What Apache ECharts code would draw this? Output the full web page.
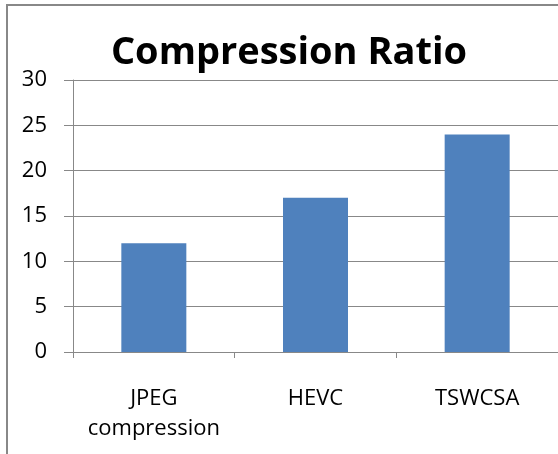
<!DOCTYPE html>
<html>
<head>
<meta charset="utf-8">
<script src="https://cdn.jsdelivr.net/npm/echarts@6/dist/echarts.min.js"></script>
<style>
  html, body { margin: 0; padding: 0; background: #ffffff; }
  #chart { width: 558px; height: 454px; }
</style>
</head>
<body>
<div id="chart"></div>
<script>
// Chart data
const categories = ['JPEG\ncompression', 'HEVC', 'TSWCSA'];
const ratioValues = [12, 17, 24];
const yTicks = [0, 5, 10, 15, 20, 25, 30];

const FONT = '"Open Sans", "Noto Sans", sans-serif';
const GRID_COLOR = '#888888';

const chart = echarts.init(document.getElementById('chart'), null, { renderer: 'canvas' });

chart.setOption({
  backgroundColor: '#ffffff',
  animation: false,
  title: {
    text: 'Compression Ratio',
    left: 284,
    top: 29,
    textAlign: 'center',
    textStyle: { fontFamily: FONT, fontWeight: 'bold', fontSize: 38, color: '#000000' }
  },
  graphic: [
    // outer frame (top and left edges visible)
    { type: 'line', shape: { x1: 6, y1: 5, x2: 560, y2: 5 }, style: { stroke: GRID_COLOR, lineWidth: 2 } },
    { type: 'line', shape: { x1: 7, y1: 4, x2: 7, y2: 460 }, style: { stroke: GRID_COLOR, lineWidth: 2 } }
  ],
  grid: { left: 73, top: 80, width: 489, height: 272, containLabel: false },
  xAxis: {
    type: 'category',
    data: categories,
    boundaryGap: true,
    axisLine: { show: true, lineStyle: { color: GRID_COLOR, width: 1 } },
    axisTick: { show: true, length: 6, alignWithLabel: false, lineStyle: { color: GRID_COLOR } },
    axisLabel: { fontFamily: FONT, fontSize: 22, color: '#000000', margin: 32, lineHeight: 30, interval: 0 },
    splitLine: { show: false }
  },
  yAxis: {
    type: 'value',
    min: yTicks[0],
    max: yTicks[yTicks.length - 1],
    interval: yTicks[1] - yTicks[0],
    axisLine: { show: true, lineStyle: { color: GRID_COLOR, width: 1 } },
    axisTick: { show: true, length: 9, lineStyle: { color: GRID_COLOR } },
    axisLabel: { fontFamily: FONT, fontSize: 22, color: '#000000', margin: 26 },
    splitLine: { show: true, lineStyle: { color: GRID_COLOR, width: 1 } }
  },
  series: [{
    type: 'bar',
    data: ratioValues,
    barWidth: 65,
    itemStyle: { color: '#4F81BD' }
  }]
});
</script>
</body>
</html>
